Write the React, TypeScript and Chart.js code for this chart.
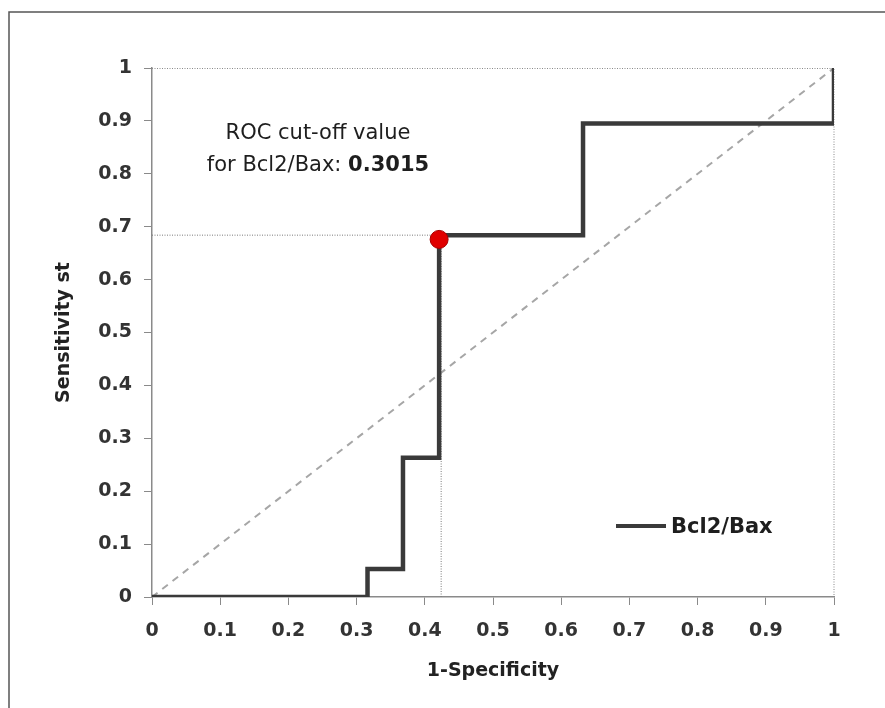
import React, { useEffect, useRef } from "react";
import { Chart, registerables } from "chart.js";

Chart.register(...registerables);

// ROC curve for Bcl2/Bax (1-Specificity, Sensitivity)
const fprValues = [0, 0.316, 0.316, 0.368, 0.368, 0.421, 0.421, 0.632, 0.632, 1, 1];
const tprValues = [0, 0, 0.053, 0.053, 0.263, 0.263, 0.684, 0.684, 0.895, 0.895, 1];

// reference diagonal
const diagX = [0, 1];
const diagY = [0, 1];

// optimal cut-off point (marker) and its guide lines
const cutoffX = [0.421];
const cutoffY = [0.676];
const guideX = [0, 0.421, 0.424, 0.424];
const guideY = [0.684, 0.684, 0.684, 0];

const tickLabels = ["0", "0.1", "0.2", "0.3", "0.4", "0.5", "0.6", "0.7", "0.8", "0.9", "1"];
const tickValues = [0, 0.1, 0.2, 0.3, 0.4, 0.5, 0.6, 0.7, 0.8, 0.9, 1];
const seriesName = "Bcl2/Bax";
const xTitle = "1-Specificity";
const yTitle = "Sensitivity st";
const noteLine1 = "ROC cut-off value";
const noteLine2a = "for Bcl2/Bax: ";
const noteLine2b = "0.3015";

const FONT = "'DejaVu Sans', sans-serif";

const framePlugin = {
  id: "frame",
  beforeDraw(chart: any) {
    const { ctx } = chart;
    ctx.save();
    ctx.fillStyle = "#ffffff";
    ctx.fillRect(0, 0, chart.width, chart.height);
    ctx.strokeStyle = "#555555";
    ctx.lineWidth = 1.5;
    ctx.strokeRect(9, 12, chart.width + 20, chart.height + 20);
    ctx.restore();
  },
  beforeDatasetsDraw(chart: any) {
    const { ctx, chartArea } = chart;
    ctx.save();
    ctx.strokeStyle = "#8a8a8a";
    ctx.lineWidth = 1;
    ctx.setLineDash([1, 1.5]);
    ctx.beginPath();
    ctx.moveTo(chartArea.left, chartArea.top + 0.5);
    ctx.lineTo(chartArea.right, chartArea.top + 0.5);
    ctx.lineTo(chartArea.right, chartArea.bottom);
    ctx.stroke();
    ctx.restore();
  },
};

export default function App() {
  const canvasRef = useRef<HTMLCanvasElement | null>(null);

  useEffect(() => {
    const canvas = canvasRef.current;
    if (!canvas) return;
    const chart = new Chart(canvas, {
      type: "scatter",
      data: {
        datasets: [
          {
            label: "guide",
            data: guideX.map((x, i) => ({ x, y: guideY[i] })),
            showLine: true,
            borderColor: "#7a7a7a",
            borderWidth: 1,
            borderDash: [1, 1.5],
            pointRadius: 0,
            order: 4,
          },
          {
            label: "diagonal",
            data: diagX.map((x, i) => ({ x, y: diagY[i] })),
            showLine: true,
            borderColor: "#a6a6a6",
            borderWidth: 2,
            borderDash: [7, 6],
            pointRadius: 0,
            order: 3,
          },
          {
            label: seriesName,
            data: fprValues.map((x, i) => ({ x, y: tprValues[i] })),
            showLine: true,
            borderColor: "#3a3a3a",
            borderWidth: 4.5,
            pointRadius: 0,
            order: 2,
          },
          {
            label: "cut-off",
            data: cutoffX.map((x, i) => ({ x, y: cutoffY[i] })),
            showLine: false,
            pointRadius: 9,
            pointBackgroundColor: "#e00000",
            pointBorderColor: "#a80000",
            pointBorderWidth: 1,
            order: 1,
          },
        ],
      },
      options: {
        animation: false,
        responsive: false,
        maintainAspectRatio: false,
        layout: { padding: { left: 10, top: 68, right: 51, bottom: 0 } },
        plugins: {
          legend: { display: false },
          tooltip: { enabled: false },
        },
        scales: {
          x: {
            type: "linear",
            min: 0,
            max: 1,
            afterFit: (s: any) => {
              s.height = 111;
            },
            afterBuildTicks: (s: any) => {
              s.ticks = tickValues.map((v) => ({ value: v }));
            },
            ticks: {
              callback: (_v: any, i: number) => tickLabels[i],
              font: { family: FONT, size: 19, weight: "bold" },
              color: "#333333",
              padding: 15,
              maxRotation: 0,
            },
            grid: {
              display: true,
              drawOnChartArea: false,
              drawTicks: true,
              tickLength: 8,
              color: "#8a8a8a",
              tickColor: "#8a8a8a",
            },
            border: { display: true, color: "#8a8a8a", width: 1.5 },
            title: {
              display: true,
              text: xTitle,
              font: { family: FONT, size: 19, weight: "bold" },
              color: "#222222",
              padding: { top: 0, bottom: 26 },
            },
          },
          y: {
            type: "linear",
            min: 0,
            max: 1,
            afterFit: (s: any) => {
              s.width = 142;
            },
            afterBuildTicks: (s: any) => {
              s.ticks = tickValues.map((v) => ({ value: v }));
            },
            ticks: {
              callback: (_v: any, i: number) => tickLabels[i],
              font: { family: FONT, size: 19, weight: "bold" },
              color: "#333333",
              padding: 12,
            },
            grid: {
              display: true,
              drawOnChartArea: false,
              drawTicks: true,
              tickLength: 8,
              color: "#8a8a8a",
              tickColor: "#8a8a8a",
            },
            border: { display: true, color: "#8a8a8a", width: 1.5 },
            title: {
              display: true,
              text: yTitle,
              font: { family: FONT, size: 19, weight: "bold" },
              color: "#222222",
              padding: { top: 43, bottom: 0 },
            },
          },
        },
      },
      plugins: [framePlugin],
    });
    return () => chart.destroy();
  }, []);

  return (
    <div style={{ position: "fixed", left: 0, top: 0, width: 885, height: 708, background: "#fff" }}>
      <canvas ref={canvasRef} width={885} height={708} style={{ display: "block" }} />
      <div
        style={{
          position: "absolute",
          left: 158,
          top: 116,
          width: 320,
          textAlign: "center",
          fontFamily: FONT,
          fontSize: 21,
          lineHeight: "32px",
          color: "#1e1e1e",
        }}
      >
        <div>{noteLine1}</div>
        <div>
          {noteLine2a}
          <b>{noteLine2b}</b>
        </div>
      </div>
      <div
        style={{
          position: "absolute",
          left: 616,
          top: 512,
          height: 28,
          display: "flex",
          alignItems: "center",
          fontFamily: FONT,
          fontSize: 21,
          fontWeight: "bold",
          color: "#1e1e1e",
        }}
      >
        <span style={{ display: "inline-block", width: 50, height: 4, background: "#3a3a3a", marginRight: 5 }} />
        <span>{seriesName}</span>
      </div>
    </div>
  );
}
